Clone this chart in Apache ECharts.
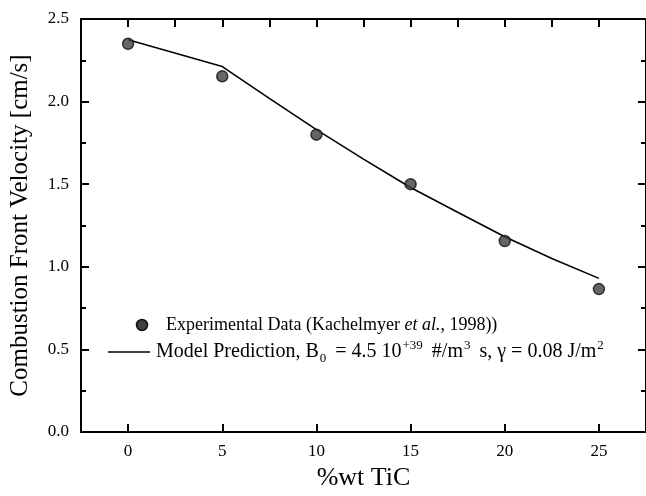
<!DOCTYPE html>
<html>
<head>
<meta charset="utf-8">
<script src="https://cdn.jsdelivr.net/npm/echarts@6/dist/echarts.min.js"></script>
<style>html,body{margin:0;padding:0;background:#fff;}#c{width:646px;height:496px;}</style>
</head>
<body>
<div id="c"></div>
<script>
// Experimental data (Kachelmyer et al., 1998)
const expX = [0, 5, 10, 15, 20, 25];
const expY = [2.35, 2.153, 1.80, 1.50, 1.156, 0.865];
// Model prediction curve
const modelX = [0, 5, 7.5, 10, 12.5, 15, 17.5, 20, 22.5, 25];
const modelY = [2.375, 2.212, 2.02, 1.83, 1.652, 1.48, 1.33, 1.182, 1.05, 0.93];
const xTicks = [0, 5, 10, 15, 20, 25];
const yTicks = [0.0, 0.5, 1.0, 1.5, 2.0, 2.5];

const FONT = '"Liberation Serif", "DejaVu Serif", serif';
const chart = echarts.init(document.getElementById('c'));

const axisCommon = {
  axisLine: { show: true, onZero: false, lineStyle: { color: '#000', width: 2 } },
  axisTick: { show: true, inside: true, length: 8, lineStyle: { color: '#000', width: 2 } },
  minorTick: { show: true, splitNumber: 2, length: 5, lineStyle: { color: '#000', width: 2 } },
  splitLine: { show: false }
};

chart.setOption({
  animation: false,
  backgroundColor: '#fff',
  grid: { left: 76, right: -3, top: 19, bottom: 61 },
  xAxis: [
    Object.assign({}, axisCommon, {
      type: 'value', min: -2.5, max: 27.5, interval: 5,
      position: 'bottom',
      name: '%wt TiC', nameLocation: 'middle', nameGap: 33,
      nameTextStyle: { fontFamily: FONT, fontSize: 26, color: '#000' },
      axisLabel: {
        fontFamily: FONT, fontSize: 17, color: '#000', margin: 11,
        customValues: xTicks,
        formatter: v => String(v)
      },
      axisTick: Object.assign({}, axisCommon.axisTick, { customValues: xTicks }),
      minorTick: { show: false }
    }),
    Object.assign({}, axisCommon, {
      type: 'value', min: -2.5, max: 27.5, interval: 2.5,
      position: 'top',
      axisLabel: { show: false },
      minorTick: { show: false }
    })
  ],
  yAxis: [
    Object.assign({}, axisCommon, {
      type: 'value', min: 0, max: 2.5, interval: 0.5,
      position: 'left',
      name: 'Combustion Front Velocity [cm/s]', nameLocation: 'middle', nameGap: 48,
      nameTextStyle: { fontFamily: FONT, fontSize: 25, color: '#000' },
      axisLabel: { fontFamily: FONT, fontSize: 17, color: '#000', margin: 12,
        customValues: yTicks,
        formatter: v => v.toFixed(1) }
    }),
    Object.assign({}, axisCommon, {
      type: 'value', min: 0, max: 2.5, interval: 0.5,
      position: 'right',
      axisLabel: { show: false }
    })
  ],
  series: [
    {
      name: 'Model Prediction', type: 'line',
      data: modelX.map((x, i) => [x, modelY[i]]),
      showSymbol: false, symbol: 'none',
      lineStyle: { color: '#000', width: 1.6 },
      z: 2
    },
    {
      name: 'Experimental Data', type: 'scatter',
      data: expX.map((x, i) => [x, expY[i]]),
      symbol: 'circle', symbolSize: 11,
      itemStyle: { color: '#404040', borderColor: '#111', borderWidth: 1.5 },
      z: 3
    }
  ],
  graphic: [
    { type: 'circle', shape: { cx: 142, cy: 325, r: 5.5 },
      style: { fill: '#404040', stroke: '#111', lineWidth: 1.5 } },
    { type: 'line', shape: { x1: 108, y1: 352, x2: 150, y2: 352 },
      style: { stroke: '#000', lineWidth: 1.5 } },
    { type: 'text', x: 166, y: 325,
      style: {
        text: 'Experimental Data (Kachelmyer {it|et al.}, 1998))',
        font: '18px ' + FONT, fill: '#000', verticalAlign: 'middle',
        rich: { it: { fontStyle: 'italic', fontSize: 18, fontFamily: FONT } }
      } },
    { type: 'text', x: 156, y: 352,
      style: {
        text: 'Model Prediction, B{sub|0}{sp|} = 4.5 10{sup|+39}{sp|} #/m{sup|3}{sp|} s, γ = 0.08 J/m{sup|2}',
        font: '20px ' + FONT, fill: '#000', verticalAlign: 'middle', lineHeight: 26,
        rich: {
          sub: { fontSize: 13, fontFamily: FONT, verticalAlign: 'bottom', lineHeight: 26, padding: [0, 1, 0, 1] },
          sup: { fontSize: 13, fontFamily: FONT, verticalAlign: 'top', lineHeight: 26, padding: [0, 1, 0, 1] },
          sp: { width: 3, fontSize: 20, lineHeight: 26 }
        }
      } }
  ]
});
</script>
</body>
</html>
